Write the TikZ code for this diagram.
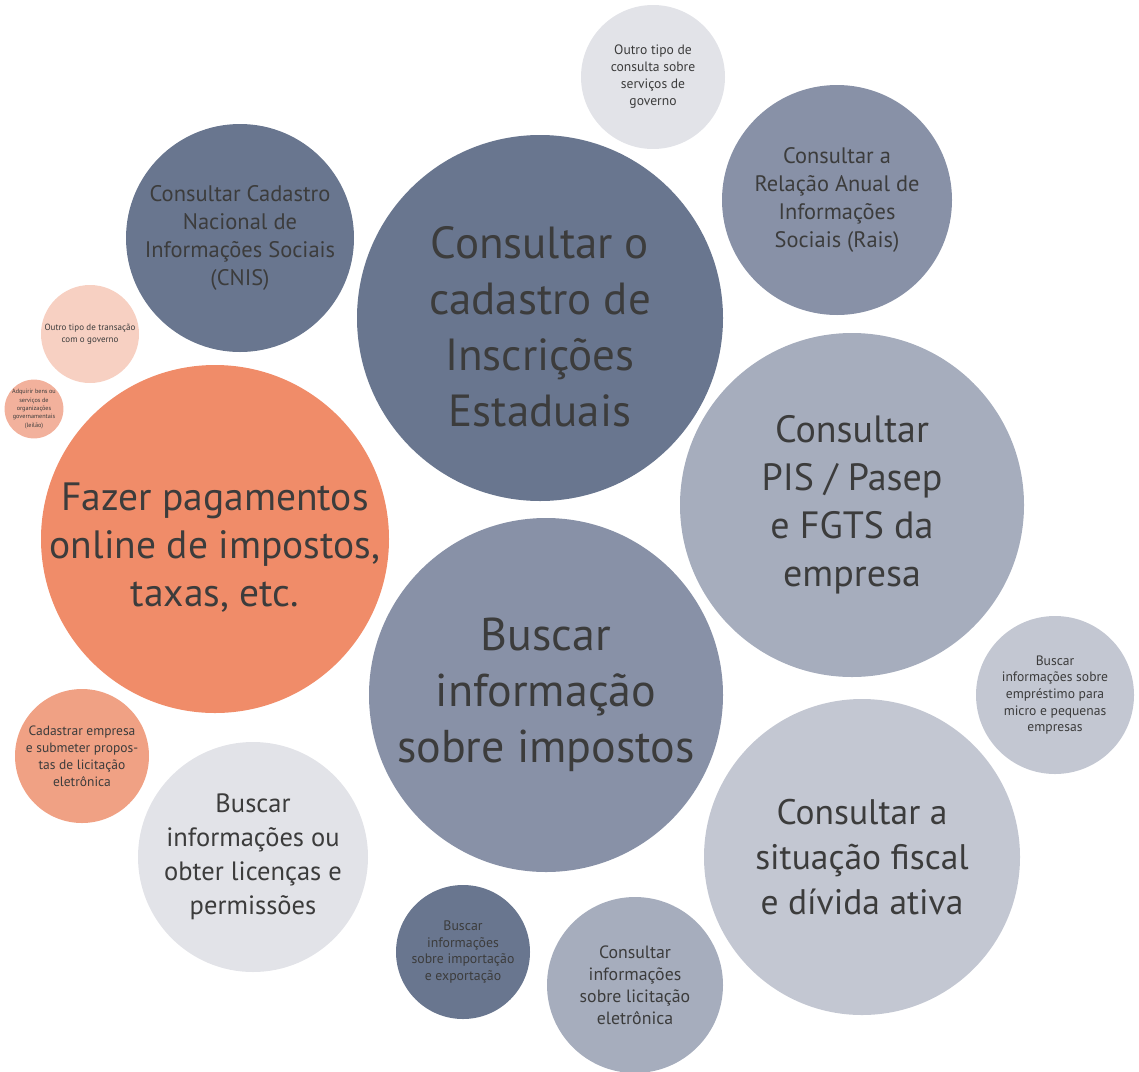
\documentclass[tikz,border=0pt]{standalone}
\usepackage{fontspec}
\setmainfont{PT Sans}
\definecolor{slatedark}{HTML}{69768F}
\definecolor{slatemid}{HTML}{8891A7}
\definecolor{slatelight}{HTML}{A6ADBD}
\definecolor{slatepale}{HTML}{C3C7D2}
\definecolor{slatefaint}{HTML}{E2E3E8}
\definecolor{orangemain}{HTML}{F08C69}
\definecolor{orangesoft}{HTML}{F0A184}
\definecolor{orangepale}{HTML}{F7D0C2}
\definecolor{orangelight}{HTML}{F2B19C}
\definecolor{textgray}{HTML}{3C3C3C}
\usetikzlibrary{positioning}

\begin{document}
\begin{tikzpicture}[x=1pt, y=-1pt,
    bubble/.style={circle, inner sep=0pt, align=center, text=textgray},
    lowtext/.style={align=center, text=textgray}]
        \useasboundingbox (0,0) rectangle (1139,1071);
        % Large bubbles
        \node[bubble, fill=slatedark, minimum size=366pt,
          label={[lowtext, yshift=-9pt, font=\fontsize{45}{56}\selectfont]center:Consultar o\\cadastro de\\Inscrições\\Estaduais}] (inscr) at (540,318) {};
        \node[bubble, fill=slatemid, minimum size=354pt, font=\fontsize{46}{56}\selectfont] (impostos) at (546,695) {Buscar\\informação\\sobre impostos};
        \node[bubble, fill=orangemain, minimum size=348pt,
          label={[lowtext, yshift=-9pt, font=\fontsize{39.5}{48}\selectfont]center:Fazer pagamentos\\online de impostos,\\taxas, etc.}] (pagam) at (215,539) {};
        \node[bubble, fill=slatelight, minimum size=344pt, font=\fontsize{38}{48}\selectfont] (pis) at (852,505) {Consultar\\PIS / Pasep\\e FGTS da\\empresa};
        \node[bubble, fill=slatepale, minimum size=316pt, font=\fontsize{35.5}{45}\selectfont] (fiscal) at (862,857) {Consultar a\\situação fiscal\\e dívida ativa};
        % Medium bubbles
        \node[bubble, fill=slatedark, minimum size=228pt, font=\fontsize{22.5}{28}\selectfont] (cnis) at (240,238) {Consultar Cadastro\\Nacional de\\Informações Sociais\\(CNIS)};
        \node[bubble, fill=slatemid, minimum size=230pt, font=\fontsize{22.4}{28}\selectfont] (rais) at (837,200) {Consultar a\\Relação Anual de\\Informações\\Sociais (Rais)};
        \node[bubble, fill=slatefaint, minimum size=230pt, font=\fontsize{26.5}{34}\selectfont] (licencas) at (253,857) {Buscar\\informações ou\\obter licenças e\\permissões};
        \node[bubble, fill=slatelight, minimum size=176pt, font=\fontsize{17.8}{22}\selectfont] (licit) at (635,985) {Consultar\\informações\\sobre licitação\\eletrônica};
        % Small bubbles
        \node[bubble, fill=slatefaint, minimum size=144pt, font=\fontsize{13.6}{17}\selectfont] (outcons) at (653,77) {Outro tipo de\\consulta sobre\\serviços de\\governo};
        \node[bubble, fill=slatepale, minimum size=158pt, font=\fontsize{13.6}{16.6}\selectfont] (emprest) at (1055,695) {Buscar\\informações sobre\\empréstimo para\\micro e pequenas\\empresas};
        \node[bubble, fill=slatedark, minimum size=134pt, font=\fontsize{13.8}{16.7}\selectfont] (import) at (463,952) {Buscar\\informações\\sobre importação\\e exportação};
        \node[bubble, fill=orangesoft, minimum size=134pt, font=\fontsize{13.5}{17}\selectfont] (cadastro) at (82,756) {Cadastrar empresa\\e submeter propos-\\tas de licitação\\eletrônica};
        \node[bubble, fill=orangepale, minimum size=98pt, font=\fontsize{9}{12}\selectfont] (outtrans) at (90,334) {Outro tipo de transação\\com o governo};
        \node[bubble, fill=orangelight, minimum size=54pt, font=\fontsize{6.2}{8.4}\selectfont] (leilao) at (34,409) {Adquirir bens ou\\serviços de\\organizações\\governamentais\\(leilão)};
      \end{tikzpicture}
\end{document}
